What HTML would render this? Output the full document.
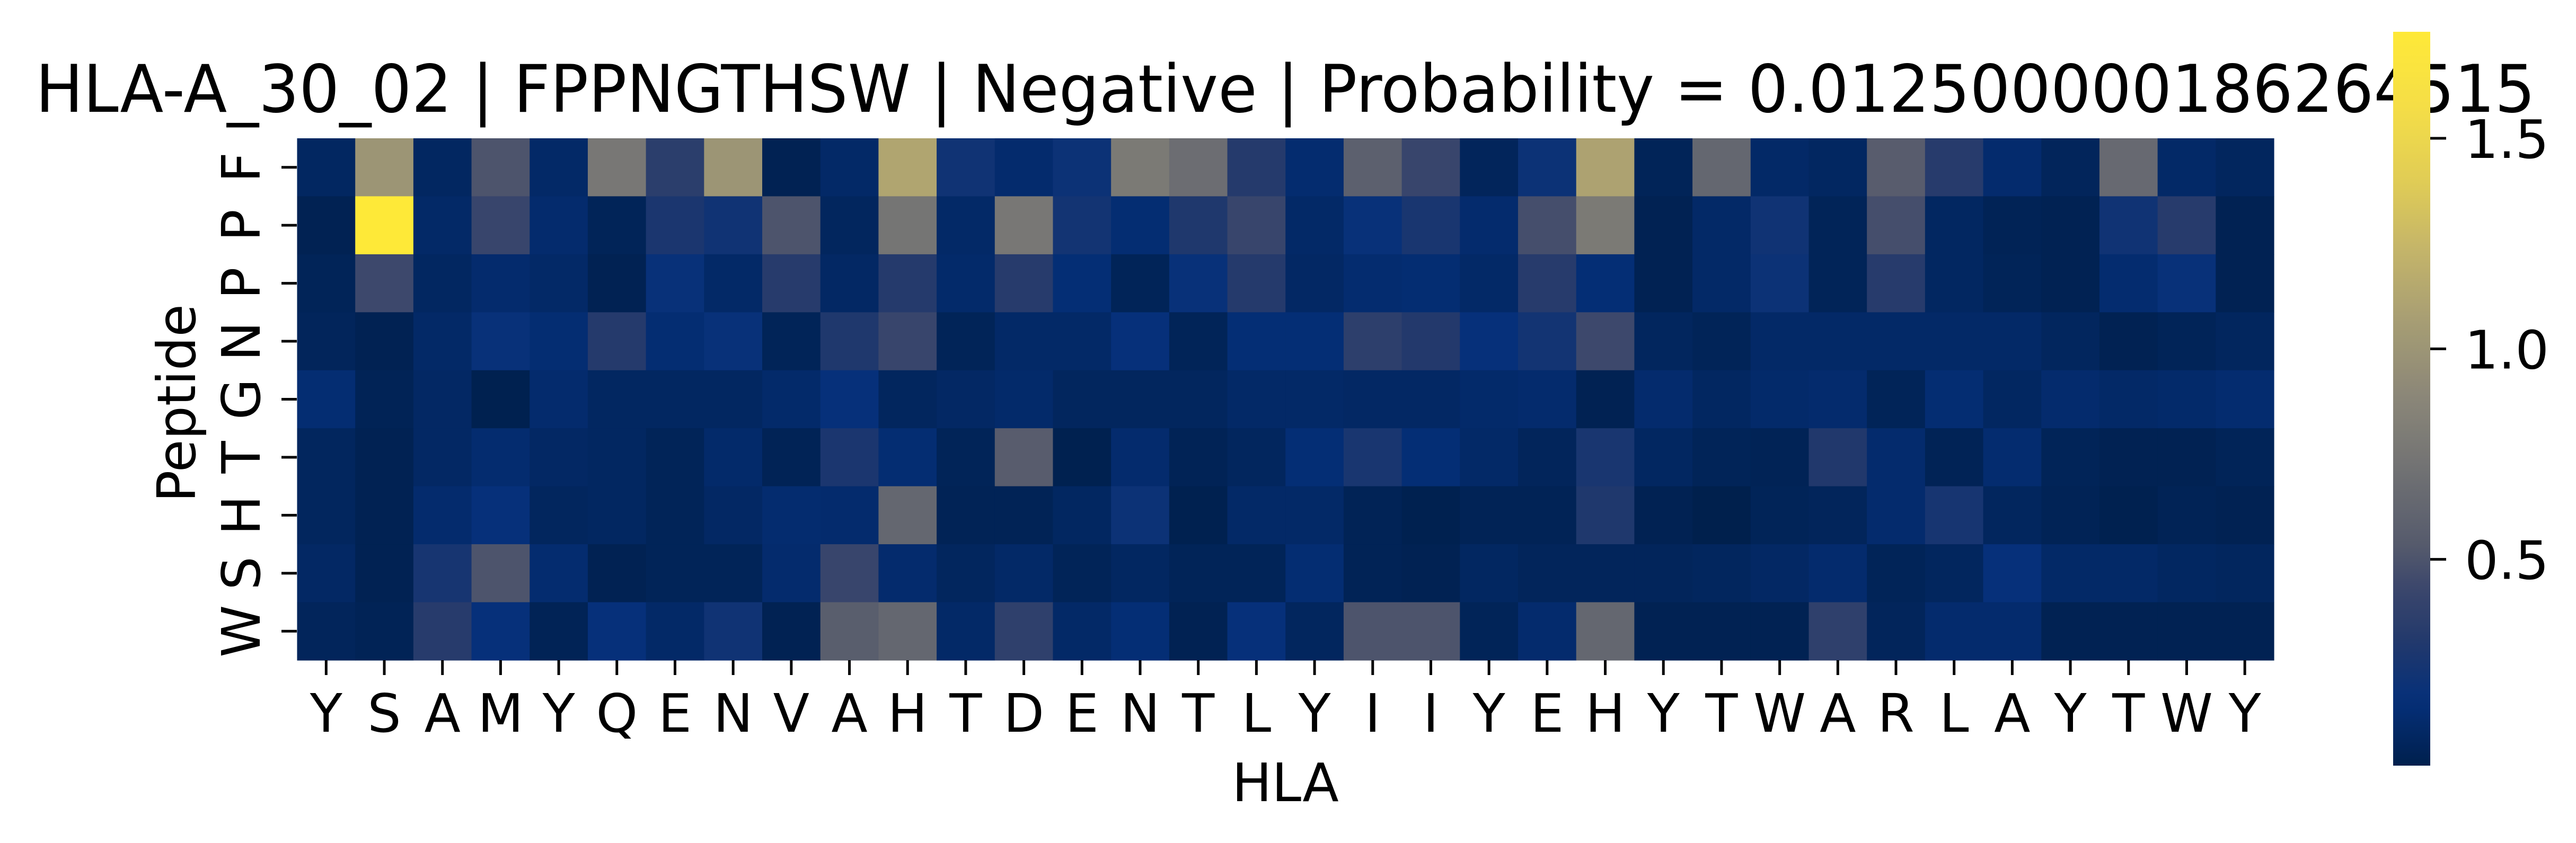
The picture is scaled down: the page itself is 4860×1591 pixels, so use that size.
<!DOCTYPE html>
<html><head><meta charset="utf-8"><style>
html,body{margin:0;padding:0;background:#fff;width:4860px;height:1591px;overflow:hidden}
svg text{font-family:"DejaVu Sans","Liberation Sans",sans-serif;fill:#000}
</style></head><body>
<svg id="chart" width="4860" height="1591" viewBox="0 0 4860 1591" xmlns="http://www.w3.org/2000/svg">
<text x="2425" y="211" font-size="124" text-anchor="middle" textLength="4716" lengthAdjust="spacingAndGlyphs">HLA-A_30_02 | FPPNGTHSW | Negative | Probability = 0.012500000186264515</text>
<g id="cells"></g>
<g id="xaxis"></g>
<g id="yaxis"></g>
<text x="2425" y="1512" font-size="100" text-anchor="middle">HLA</text>
<text transform="translate(368,761) rotate(-90)" font-size="100" text-anchor="middle">Peptide</text>
<defs><linearGradient id="cbgrad" x1="0" y1="1" x2="0" y2="0"></linearGradient></defs>
<rect x="4515" y="60" width="70" height="1385" fill="url(#cbgrad)"/>
<g id="cbticks"></g>
</svg>
<script>
const rowLabels = ["F","P","P","N","G","T","H","S","W"];
const colLabels = ["Y","S","A","M","Y","Q","E","N","V","A","H","T","D","E","N","T","L","Y","I","I","Y","E","H","Y","T","W","A","R","L","A","Y","T","W","Y"];
const rowF = [0.08,1.0,0.08,0.5,0.1,0.76,0.35,1.0,0.03,0.1,1.12,0.22,0.12,0.2,0.78,0.68,0.32,0.13,0.58,0.42,0.06,0.2,1.1,0.05,0.63,0.1,0.08,0.55,0.33,0.12,0.06,0.65,0.1,0.07];
const rowP1 = [0.03,1.75,0.1,0.42,0.12,0.05,0.27,0.22,0.5,0.07,0.74,0.1,0.76,0.23,0.14,0.29,0.42,0.1,0.18,0.26,0.12,0.47,0.78,0.03,0.1,0.22,0.05,0.47,0.08,0.04,0.03,0.22,0.33,0.03];
const rowP2 = [0.05,0.44,0.08,0.12,0.1,0.03,0.18,0.1,0.33,0.09,0.32,0.11,0.33,0.15,0.05,0.18,0.32,0.09,0.13,0.14,0.1,0.33,0.15,0.03,0.1,0.2,0.05,0.33,0.08,0.05,0.03,0.13,0.18,0.03];
const rowN = [0.06,0.03,0.1,0.18,0.14,0.32,0.14,0.18,0.05,0.29,0.42,0.05,0.1,0.1,0.17,0.05,0.15,0.15,0.36,0.31,0.17,0.23,0.44,0.07,0.05,0.1,0.1,0.1,0.1,0.1,0.07,0.03,0.05,0.07];
const rowG = [0.14,0.04,0.09,0.02,0.12,0.08,0.08,0.08,0.11,0.17,0.07,0.09,0.11,0.07,0.07,0.07,0.1,0.1,0.09,0.09,0.11,0.12,0.03,0.12,0.08,0.11,0.12,0.05,0.14,0.08,0.12,0.1,0.11,0.13];
const rowT = [0.07,0.03,0.09,0.13,0.09,0.08,0.05,0.11,0.04,0.27,0.14,0.05,0.55,0.02,0.12,0.04,0.07,0.15,0.26,0.15,0.1,0.06,0.26,0.08,0.05,0.04,0.3,0.12,0.04,0.13,0.05,0.03,0.03,0.05];
const rowH = [0.07,0.03,0.12,0.17,0.07,0.08,0.05,0.09,0.13,0.12,0.63,0.04,0.04,0.08,0.2,0.02,0.1,0.1,0.04,0.02,0.04,0.04,0.29,0.03,0.01,0.05,0.06,0.12,0.25,0.07,0.04,0.02,0.04,0.03];
const rowS = [0.09,0.03,0.25,0.5,0.13,0.03,0.05,0.05,0.12,0.42,0.12,0.07,0.1,0.05,0.08,0.05,0.05,0.14,0.04,0.03,0.08,0.06,0.06,0.06,0.07,0.09,0.12,0.05,0.07,0.17,0.1,0.1,0.08,0.07];
const rowW = [0.06,0.04,0.33,0.17,0.04,0.17,0.1,0.22,0.03,0.56,0.63,0.1,0.37,0.1,0.15,0.03,0.17,0.07,0.5,0.5,0.05,0.12,0.63,0.03,0.03,0.03,0.37,0.06,0.12,0.12,0.03,0.03,0.03,0.03];
const values = [rowF,rowP1,rowP2,rowN,rowG,rowT,rowH,rowS,rowW];
const cbTicks = [0.5,1.0,1.5];
const cbTickLabels = ["0.5","1.0","1.5"];
const vmin = 0.01, vmax = 1.753;

const NS = "http://www.w3.org/2000/svg";
const X0 = 560.5, Y0 = 261, CW = (4290-560.5)/34, CH = (1246-261)/9;
const xPos = i => X0 + i*CW;
const yPos = j => Y0 + j*CH;
const stops = [[0,[0,32,77]],[0.09,[5,48,122]],[0.165,[33,56,108]],[0.24,[58,70,108]],[0.3,[85,90,108]],[0.4,[112,113,115]],[0.5,[138,134,120]],[0.6,[165,156,116]],[0.7,[195,180,106]],[0.8,[225,205,85]],[0.9,[245,222,70]],[1,[254,233,56]]];
function cmap(v){
  let t = Math.max(0,Math.min(1,(v-vmin)/(vmax-vmin)));
  for(let k=1;k<stops.length;k++){
    if(t<=stops[k][0]){
      const a=stops[k-1],b=stops[k],f=(t-a[0])/(b[0]-a[0]);
      const c=a[1].map((x,i)=>Math.round(x+(b[1][i]-x)*f));
      return `rgb(${c[0]},${c[1]},${c[2]})`;
    }
  }
  return "rgb(254,233,56)";
}
const cells = document.getElementById("cells");
values.forEach((row,j)=>row.forEach((v,i)=>{
  const r=document.createElementNS(NS,"rect");
  
  
  r.setAttribute("x",xPos(i)); r.setAttribute("y",yPos(j));
  r.setAttribute("width",CW+0.6); r.setAttribute("height",CH+0.6);
  r.setAttribute("fill",cmap(v));
  cells.appendChild(r);
}));
const xa = document.getElementById("xaxis");
colLabels.forEach((l,i)=>{
  const cx = xPos(i)+CW/2;
  const t=document.createElementNS(NS,"line");
  
  
  t.setAttribute("x1",cx);t.setAttribute("x2",cx);t.setAttribute("y1",1246);t.setAttribute("y2",1274);
  t.setAttribute("stroke","#000");t.setAttribute("stroke-width","5");
  xa.appendChild(t);
  const tx=document.createElementNS(NS,"text");
  
  
  tx.setAttribute("x",cx);tx.setAttribute("y",1381);tx.setAttribute("font-size","100");tx.setAttribute("text-anchor","middle");
  tx.textContent=l; xa.appendChild(tx);
});
const ya = document.getElementById("yaxis");
rowLabels.forEach((l,j)=>{
  const cy = yPos(j)+CH/2;
  const t=document.createElementNS(NS,"line");
  
  
  t.setAttribute("x1",531);t.setAttribute("x2",560);t.setAttribute("y1",cy);t.setAttribute("y2",cy);
  t.setAttribute("stroke","#000");t.setAttribute("stroke-width","5");
  ya.appendChild(t);
  const tx=document.createElementNS(NS,"text");
  
  
  tx.setAttribute("transform",`translate(490,${cy}) rotate(-90)`);tx.setAttribute("font-size","100");tx.setAttribute("text-anchor","middle");
  tx.textContent=l; ya.appendChild(tx);
});
const grad=document.getElementById("cbgrad");
for(let k=0;k<=40;k++){
  const s=document.createElementNS(NS,"stop");
  s.setAttribute("offset",k/40);
  s.setAttribute("stop-color",cmap(vmin+(vmax-vmin)*k/40));
  grad.appendChild(s);
}
const cb=document.getElementById("cbticks");
const cbY = v => 1445 - (v-vmin)/(vmax-vmin)*1385;
cbTicks.forEach((v,k)=>{
  const y=cbY(v);
  const t=document.createElementNS(NS,"line");
  
  
  t.setAttribute("x1",4585);t.setAttribute("x2",4615);t.setAttribute("y1",y);t.setAttribute("y2",y);
  t.setAttribute("stroke","#000");t.setAttribute("stroke-width","5");
  cb.appendChild(t);
  const tx=document.createElementNS(NS,"text");
  
  
  tx.setAttribute("x",4650);tx.setAttribute("y",y+37);tx.setAttribute("font-size","100");
  tx.textContent=cbTickLabels[k]; cb.appendChild(tx);
});
</script>
</body></html>
